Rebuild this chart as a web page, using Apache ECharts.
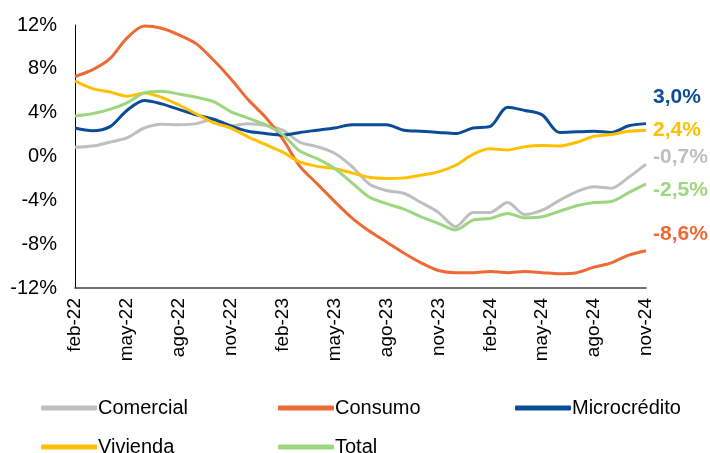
<!DOCTYPE html>
<html>
<head>
<meta charset="utf-8">
<script src="https://cdn.jsdelivr.net/npm/echarts@6/dist/echarts.min.js"></script>
<style>
  html, body { margin: 0; padding: 0; background: #fff; }
  #main { width: 710px; height: 453px; }
</style>
</head>
<body>
<div id="main"></div>
<script>
// meses feb-22 .. nov-24
var months = ['feb-22','mar-22','abr-22','may-22','jun-22','jul-22','ago-22','sep-22','oct-22','nov-22','dic-22','ene-23',
  'feb-23','mar-23','abr-23','may-23','jun-23','jul-23','ago-23','sep-23','oct-23','nov-23','dic-23','ene-24',
  'feb-24','mar-24','abr-24','may-24','jun-24','jul-24','ago-24','sep-24','oct-24','nov-24'];

var comercial = [0.85,0.95,1.3,1.7,2.6,2.95,2.9,3.0,3.4,2.8,3.0,2.85,
  2.4,1.3,0.9,0.3,-0.9,-2.5,-3.1,-3.35,-4.2,-5.1,-6.4,-5.1,
  -5.1,-4.2,-5.3,-4.9,-4.0,-3.2,-2.75,-2.9,-1.9,-0.7];
var consumo = [7.3,7.9,8.9,10.8,11.9,11.7,11.1,10.3,8.8,7.1,5.2,3.6,
  1.6,-0.9,-2.5,-4.1,-5.6,-6.8,-7.8,-8.8,-9.7,-10.4,-10.6,-10.6,
  -10.5,-10.6,-10.5,-10.6,-10.7,-10.6,-10.1,-9.7,-9.0,-8.6];
var microcredito = [2.6,2.35,2.7,4.2,5.1,4.8,4.3,3.8,3.4,2.8,2.3,2.1,
  1.95,2.2,2.4,2.6,2.9,2.9,2.9,2.4,2.3,2.2,2.1,2.6,
  2.75,4.5,4.2,3.8,2.2,2.25,2.3,2.2,2.8,3.0];
var vivienda = [6.9,6.2,5.9,5.5,5.8,5.4,4.7,3.9,3.1,2.6,1.8,1.1,
  0.4,-0.5,-0.9,-1.1,-1.5,-1.9,-2.0,-1.95,-1.7,-1.4,-0.8,0.2,
  0.7,0.6,0.9,1.0,0.95,1.3,1.85,2.0,2.3,2.4];
var total = [3.7,3.9,4.3,4.9,5.8,5.95,5.7,5.4,5.0,4.1,3.5,2.9,
  2.0,0.5,-0.2,-1.1,-2.4,-3.7,-4.3,-4.8,-5.5,-6.1,-6.7,-5.8,
  -5.65,-5.2,-5.6,-5.5,-5.0,-4.5,-4.2,-4.1,-3.3,-2.5];

var names = ['Comercial','Consumo','Microcrédito','Vivienda','Total'];
var colors = ['#BFBFBF','#EE6A34','#0A4C97','#FFC000','#9DD67F'];
var values = [comercial, consumo, microcredito, vivienda, total];
var labelDy = [-7, -17, -26, 0, 6];

var chart = echarts.init(document.getElementById('main'));

function pct(v){ return v.toFixed(1).replace('.', ',') + '%'; }

var series = names.map(function(n, i){
  return {
    name: n,
    type: 'line',
    data: values[i],
    smooth: 0.3,
    symbol: 'none',
    lineStyle: { width: 3, color: colors[i] },
    itemStyle: { color: colors[i] },
    endLabel: {
      show: true,
      distance: 7,
      offset: [0, labelDy[i]],
      formatter: function(p){ return pct(p.value); },
      color: colors[i],
      fontFamily: 'Liberation Sans',
      fontWeight: 'bold',
      fontSize: 21
    }
  };
});

var legendPos = [[36,393],[273,393],[510,393],[36,432],[273,432]];
var legends = names.map(function(n, i){
  return {
    data: [n],
    left: legendPos[i][0],
    top: legendPos[i][1],
    icon: 'roundRect',
    itemWidth: 56,
    itemHeight: 5,
    textStyle: { fontFamily: 'Liberation Sans', fontSize: 20, color: '#000', padding: [0,0,0,-4] }
  };
});

var option = {
  animation: false,
  legend: legends,
  grid: { left: 75, right: 64, top: 25, bottom: 165 },
  xAxis: [{
    type: 'category',
    data: months,
    boundaryGap: false,
    axisLine: { show: false },
    axisTick: { show: false },
    axisLabel: {
      interval: 2,
      rotate: 90,
      margin: 10,
      fontFamily: 'Liberation Sans',
      fontSize: 19,
      color: '#000'
    }
  }, {
    type: 'category',
    data: months,
    boundaryGap: false,
    position: 'bottom',
    axisLine: { show: true, onZero: true, lineStyle: { color: '#404040', width: 1.5 } },
    axisTick: { show: false },
    axisLabel: { show: false }
  }],
  yAxis: {
    type: 'value',
    min: -12,
    max: 12,
    interval: 4,
    axisLine: { show: true, lineStyle: { color: '#000', width: 1 } },
    axisTick: { show: false },
    splitLine: { show: false },
    axisLabel: {
      formatter: '{value}%',
      margin: 18,
      fontFamily: 'Liberation Sans',
      fontSize: 20,
      color: '#000'
    }
  },
  series: series
};
option && chart.setOption(option);
</script>
</body>
</html>
